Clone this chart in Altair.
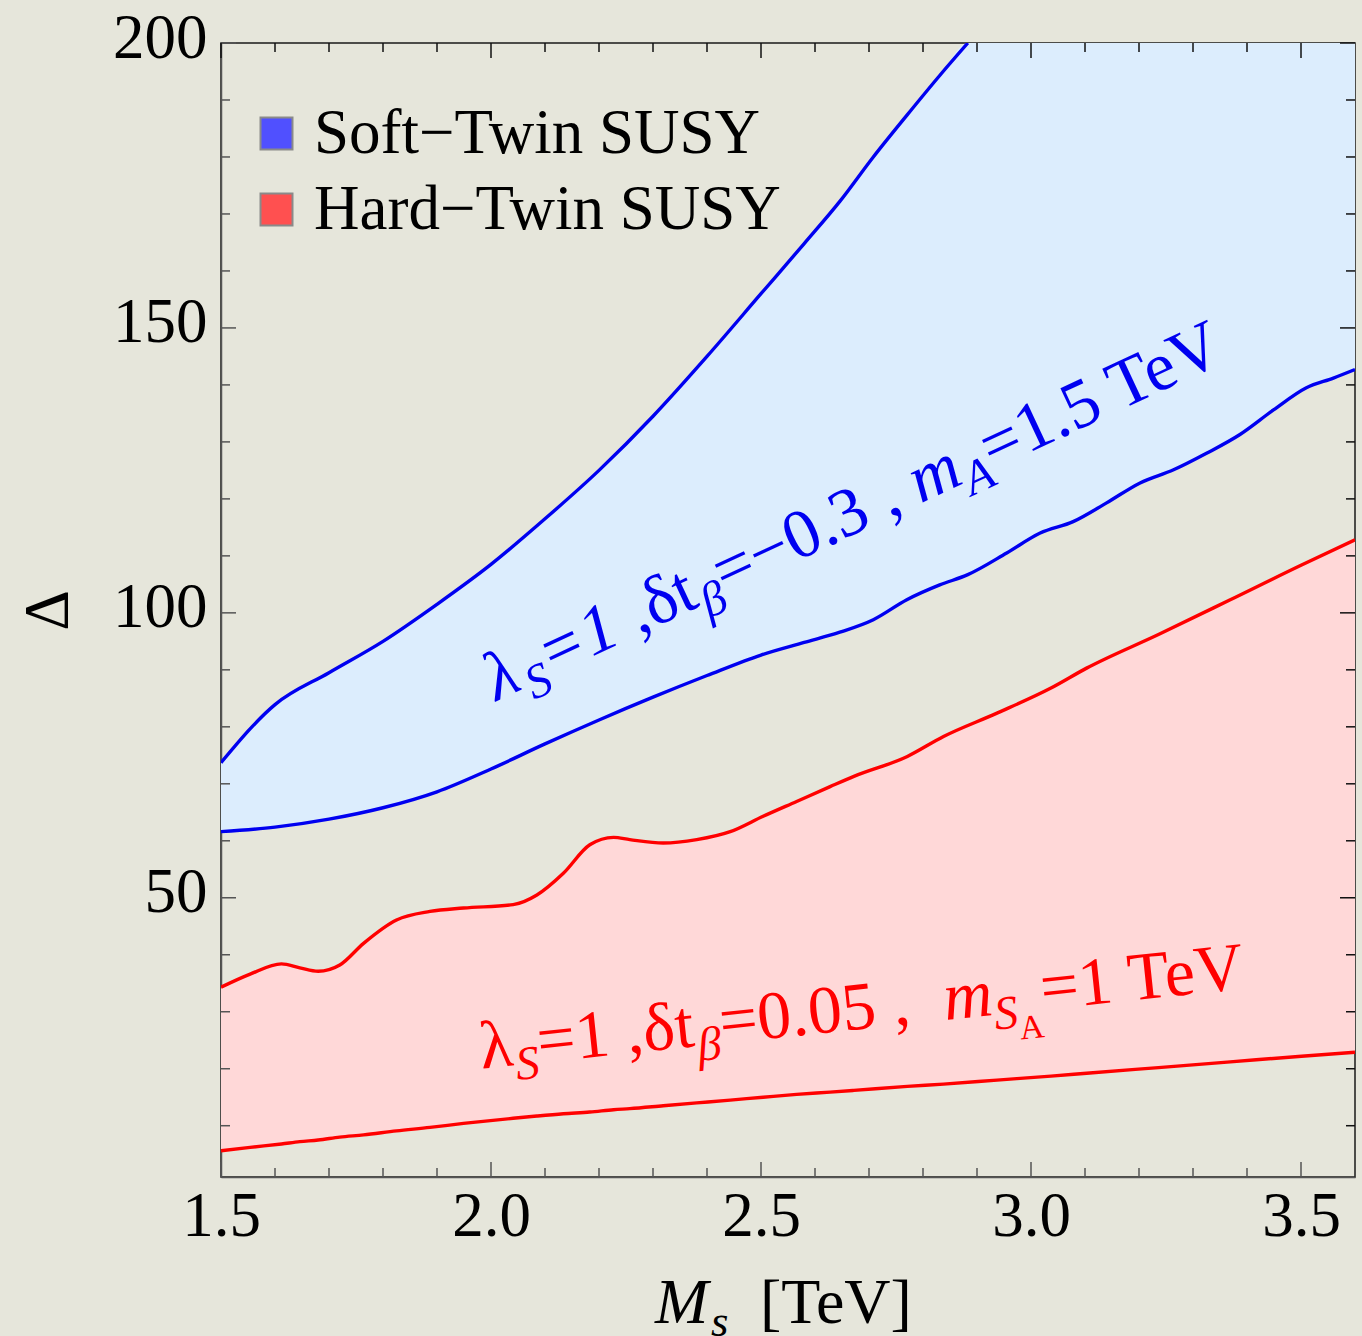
import altair as alt
import pandas as pd

SERIF = "Liberation Serif"
W = 1134
H = 1134

# ---- data -------------------------------------------------------------
# Soft-Twin SUSY band (blue)
blue_x = [1.5, 1.6, 1.7, 1.8, 1.9, 2.0, 2.1, 2.2, 2.3, 2.4, 2.5, 2.58, 2.646,
          2.708, 2.77, 2.831, 2.883, 2.955, 3.017, 3.078, 3.14, 3.202, 3.264,
          3.325, 3.387, 3.449, 3.51, 3.56, 3.6]
blue_lower = [61.6, 62.4, 63.8, 65.8, 68.6, 72.6, 77.0, 81.2, 85.2, 89.0, 92.6,
              94.8, 96.6, 98.8, 102.3, 104.9, 106.7, 110.5, 114.0, 116.0, 119.3,
              122.8, 125.1, 128.0, 131.3, 135.6, 139.5, 141.2, 142.7]
# upper edge leaves the frame at Delta = 200; beyond that the band fills to the top
blue_upper = [73.7, 83.9, 89.5, 95.0, 101.5, 108.5, 116.5, 125.0, 134.5, 145.0,
              156.0, 164.8, 172.2, 180.0, 187.3, 194.3, 200.0, 200.0, 200.0,
              200.0, 200.0, 200.0, 200.0, 200.0, 200.0, 200.0, 200.0, 200.0, 200.0]
BLUE_UPPER_EXIT = 17  # points of the upper edge inside the frame

# Hard-Twin SUSY band (red)
red_x = [1.5, 1.554, 1.612, 1.646, 1.68, 1.72, 1.764, 1.825, 1.887, 1.949, 2.041,
         2.085, 2.134, 2.183, 2.227, 2.257, 2.319, 2.381, 2.443, 2.504, 2.566,
         2.628, 2.672, 2.771, 2.838, 2.937, 3.037, 3.103, 3.236, 3.369, 3.501, 3.6]
red_upper = [34.3, 36.6, 38.4, 37.7, 37.1, 38.2, 42.0, 46.1, 47.6, 48.2, 48.8,
             50.5, 54.3, 59.3, 60.6, 60.2, 59.6, 60.2, 61.6, 64.3, 66.9, 69.5,
             71.3, 74.8, 78.3, 82.4, 86.8, 90.3, 96.2, 102.3, 108.4, 112.8]
red_lower = [5.6, 6.2, 6.8, 7.2, 7.5, 8.0, 8.4, 9.1, 9.7, 10.4, 11.3, 11.7, 12.1,
             12.4, 12.8, 13.0, 13.5, 14.0, 14.5, 15.0, 15.5, 15.9, 16.2, 16.9,
             17.3, 18.0, 18.7, 19.2, 20.2, 21.2, 22.2, 22.9]

legend_names = ["Soft\u2212Twin SUSY", "Hard\u2212Twin SUSY"]
legend_colors = ["#5050ff", "#ff5050"]

x_major = [1.5, 2.0, 2.5, 3.0, 3.5]
x_minor = [1.6, 1.7, 1.8, 1.9, 2.1, 2.2, 2.3, 2.4, 2.6, 2.7, 2.8, 2.9,
           3.1, 3.2, 3.3, 3.4]
y_major = [50, 100, 150, 200]
y_minor = [10, 20, 30, 40, 60, 70, 80, 90, 110, 120, 130, 140, 160, 170, 180, 190]

# label pieces: (text, size factor, baseline shift in em, font style)
blue_label = [("λ", 1, 0, "italic"), ("S", 0.7, 0.22, "italic"), ("=1 ,", 1, 0, "italic"),
              ("δt", 1, 0, "normal"), ("β", 0.7, 0.22, "italic"),
              ("=−0.3 , ", 1, 0, "normal"), ("m", 1, 0, "italic"),
              ("A", 0.7, 0.22, "italic"), ("=1.5 TeV", 1, 0, "normal")]
red_label = [("λ", 1, 0, "normal"), ("S", 0.7, 0.22, "italic"), ("=1 ,", 1, 0, "normal"),
             ("δt", 1, 0, "normal"), ("β", 0.7, 0.22, "italic"),
             ("=0.05 ,  ", 1, 0, "normal"), ("m", 1, 0, "italic"),
             ("S", 0.7, 0.22, "italic"), ("A", 0.5, 0.4, "normal"),
             ("=1 TeV", 1, 0, "normal")]
x_title = [("M", 1, 0, "italic"), ("s", 0.7, 0.2, "italic"), ("[TeV]", 1, 0, "normal")]

# ---- helpers ------------------------------------------------------------
WIDTHS = {"0": .5, "1": .5, "2": .5, "3": .5, "5": .5, ".": .25, ",": .25, " ": .25,
          "=": .564, "−": .564, "T": .611, "e": .444, "V": .722, "t": .278,
          "λ": .5, "δ": .5, "β": .5, "S": .556, "A": .722, "m": .778,
          "M": .889, "s": .389, "[": .333, "]": .333}
WIDTHS_IT = {"m": .722, "A": .611, "S": .5, "M": .833, "s": .389, "=": .675}


def text_width(text, style):
    w = 0.0
    for ch in text:
        if style == "italic" and ch in WIDTHS_IT:
            w += WIDTHS_IT[ch]
        else:
            w += WIDTHS.get(ch, .5)
    return w


xs = alt.Scale(domain=[1.5, 3.6], nice=False, zero=False)
ys = alt.Scale(domain=[1, 200], nice=False, zero=False)

x_axis = alt.Axis(values=x_major, format=".1f", labelFont=SERIF, labelFontSize=63,
                  labelColor="black", ticks=False, tickSize=0, labelPadding=8,
                  labelFlush=False, labelOverlap=False, domainColor="#555555",
                  domainWidth=1.5, grid=False, title=None)
y_axis = alt.Axis(values=y_major, format="d", labelFont=SERIF, labelFontSize=63,
                  labelColor="black", ticks=False, tickSize=0, labelPadding=14,
                  labelOffset=-5, labelFlush=False, labelOverlap=False,
                  domainColor="#555555", domainWidth=1.5, grid=False,
                  title="Δ", titleFont=SERIF, titleFontSize=63,
                  titleFontWeight="normal", titleColor="black", titleAngle=270,
                  titleX=-173, titleY=567, titleAlign="center",
                  titleBaseline="middle")


def X(field):
    return alt.X(field, type="quantitative", scale=xs, axis=x_axis)


def Y(field):
    return alt.Y(field, type="quantitative", scale=ys, axis=y_axis)


blue_df = pd.DataFrame({"x": blue_x, "lo": blue_lower, "hi": blue_upper})
blue_top_df = pd.DataFrame({"x": blue_x[:BLUE_UPPER_EXIT],
                            "hi": blue_upper[:BLUE_UPPER_EXIT]})
red_df = pd.DataFrame({"x": red_x, "lo": red_lower, "hi": red_upper})

layers = []

# filled bands
layers.append(alt.Chart(red_df).mark_area(color="#ffd8d8", opacity=1,
                                          interpolate="monotone", clip=True)
              .encode(x=X("x"), y=Y("lo"), y2="hi"))
layers.append(alt.Chart(blue_df).mark_area(color="#dcedfd", opacity=1,
                                           interpolate="monotone", clip=True)
              .encode(x=X("x"), y=Y("lo"), y2="hi"))

# band edges
for df, field, col in [(red_df, "lo", "#ff0000"), (red_df, "hi", "#ff0000"),
                       (blue_df, "lo", "#0000f0"), (blue_top_df, "hi", "#0000f0")]:
    layers.append(alt.Chart(df).mark_line(color=col, strokeWidth=3.4,
                                          interpolate="monotone", clip=True)
                  .encode(x=X("x"), y=Y(field)))


# inward ticks on all four sides
def ticks(values, side, length, color):
    df = pd.DataFrame({"v": values})
    mark = alt.Chart(df).mark_rule(color=color, strokeWidth=1.5)
    if side == "bottom":
        return mark.encode(x=X("v"), y=alt.value(H), y2=alt.value(H - length))
    if side == "top":
        return mark.encode(x=X("v"), y=alt.value(0), y2=alt.value(length))
    if side == "left":
        return mark.encode(y=Y("v"), x=alt.value(0), x2=alt.value(length))
    return mark.encode(y=Y("v"), x=alt.value(W), x2=alt.value(W - length))


for side, col in [("bottom", "#555555"), ("left", "#555555"),
                  ("top", "#111111"), ("right", "#111111")]:
    vals_major = x_major if side in ("bottom", "top") else y_major
    vals_minor = x_minor if side in ("bottom", "top") else y_minor
    layers.append(ticks(vals_major, side, 15, col))
    layers.append(ticks(vals_minor, side, 9, col))


# rotated parameter labels inside the bands
def label(pieces, x0, y0, angle, size, color):
    out = []
    anchor = pd.DataFrame({"x": [x0], "y": [y0]})
    pos = 0.0
    for text, scale, shift, style in pieces:
        fs = size * scale
        out.append(alt.Chart(anchor).mark_text(
            text=text, angle=angle, align="left", baseline="alphabetic",
            dx=round(pos, 1), dy=round(shift * size, 1), fontSize=fs,
            fontStyle=style, font=SERIF, color=color)
            .encode(x=X("x"), y=Y("y")))
        pos += text_width(text, style) * fs
    return out


layers += label(blue_label, 2.01, 84.5, 335, 69, "#0000f0")
layers += label(red_label, 1.983, 20.0, 354, 68, "#ff0000")

# x-axis title with a subscript
one = pd.DataFrame({"a": [0]})
title_x = [434.0, 490.0, 539.0]
for (text, scale, shift, style), px in zip(x_title, title_x):
    fs = 64 * scale
    layers.append(alt.Chart(one).mark_text(
        text=text, align="left", baseline="alphabetic", fontSize=fs,
        fontStyle=style, font=SERIF, color="black")
        .encode(x=alt.value(px), y=alt.value(1280 + shift * 64)))

# legend keys
legend_df = pd.DataFrame({"series": legend_names})
layers.append(alt.Chart(legend_df).mark_square(opacity=0, size=1, clip=True)
              .encode(x=alt.value(-50), y=alt.value(-50),
                      color=alt.Color("series:N",
                                      scale=alt.Scale(domain=legend_names,
                                                      range=legend_colors),
                                      legend=alt.Legend(
                                          orient="none", legendX=24, legendY=59,
                                          title=None, symbolType="square",
                                          symbolSize=1024,
                                          symbolStrokeColor="#8a8a8a",
                                          symbolStrokeWidth=2, symbolOpacity=1,
                                          labelFont=SERIF, labelFontSize=63,
                                          labelColor="black", labelOffset=6,
                                          rowPadding=12, padding=0,
                                          labelLimit=0))))

chart = (alt.layer(*layers)
         .properties(width=W, height=H,
                     padding={"left": 221, "top": 43, "right": 7, "bottom": 159},
                     autosize=alt.AutoSizeParams(type="none"))
         .configure(background="#e6e6db")
         .configure_view(stroke="#1a1a1a", strokeWidth=1.5))

chart.save("out.html", embed_options={"renderer": "svg", "actions": False})
